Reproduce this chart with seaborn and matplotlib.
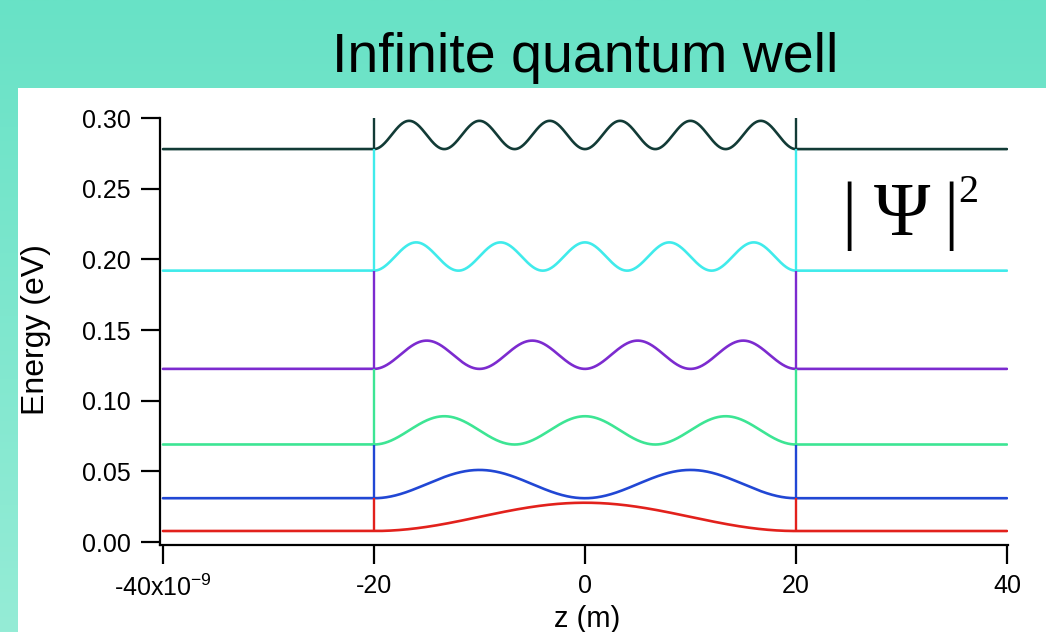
import numpy as np
import pandas as pd
import matplotlib
matplotlib.use("Agg")
import matplotlib.pyplot as plt
from matplotlib.patches import Rectangle
from matplotlib.colors import LinearSegmentedColormap
import seaborn as sns

# ---- data ----
states = [1, 2, 3, 4, 5, 6]                              # quantum number n
levels = [0.0078, 0.031, 0.069, 0.1225, 0.192, 0.278]    # energy E_n (eV)
amplitude = 0.020                                        # |psi|^2 peak height drawn (eV units)
well_half_width = 20.0                                   # nm (well from -20 to 20)
z_min, z_max = -40.0, 40.0                               # nm
wall_top = 0.301
colors = ["#E2211C", "#2147D4", "#3DE594", "#7C2BCF", "#40EBEB", "#123B36"]
xticks = [-40, -20, 0, 20, 40]
xtick_labels = ["-40x10$^{-9}$", "-20", "0", "20", "40"]
yticks = [0.00, 0.05, 0.10, 0.15, 0.20, 0.25, 0.30]
ytick_labels = ["0.00", "0.05", "0.10", "0.15", "0.20", "0.25", "0.30"]

# ---- build curves: E_n outside the well, E_n + A sin^2(n pi (z+L/2)/L) inside ----
z = np.linspace(z_min, z_max, 2401)
L = 2 * well_half_width
rows = []
for n, E in zip(states, levels):
    inside = np.abs(z) <= well_half_width
    psi2 = np.where(inside, np.sin(n * np.pi * (z + well_half_width) / L) ** 2, 0.0)
    rows.append(pd.DataFrame({"z": z, "E": E + amplitude * psi2, "state": n}))
df = pd.concat(rows, ignore_index=True)

sns.set_style("ticks")
plt.rcParams["font.family"] = ["Liberation Sans", "DejaVu Sans"]
plt.rcParams["mathtext.default"] = "regular"
plt.rcParams["text.color"] = "black"

W, H = 1046, 632
fig = plt.figure(figsize=(W / 100, H / 100), dpi=100)

# background: teal gradient with white panel
bg = fig.add_axes([0, 0, 1, 1])
cmap = LinearSegmentedColormap.from_list("bgc", ["#95ECD6", "#68E2C6"])
grad = np.linspace(0, 1, 256).reshape(-1, 1)
bg.imshow(grad, aspect="auto", cmap=cmap, extent=[0, 1, 0, 1], origin="lower", zorder=0)
bg.add_patch(Rectangle((18 / W, 0), 1, 1 - 88 / H, transform=bg.transAxes,
                       facecolor="white", edgecolor="none", zorder=1))
bg.set_xlim(0, 1); bg.set_ylim(0, 1)
bg.axis("off")

# main axes
left, right, top, bottom = 160 / W, 1008 / W, 1 - 118 / H, 1 - 545 / H
ax = fig.add_axes([left, bottom, right - left, top - bottom])
ax.patch.set_alpha(0)

palette = {n: c for n, c in zip(states, colors)}
sns.lineplot(data=df, x="z", y="E", hue="state", palette=palette, sort=False,
             estimator=None, linewidth=1.9, legend=False, ax=ax)

# well walls coloured by the level they start from
for i, (E, c) in enumerate(zip(levels, colors)):
    upper = levels[i + 1] if i + 1 < len(levels) else wall_top
    ax.vlines([-well_half_width, well_half_width], E, upper, colors=c, linewidth=1.7)

ax.set_xlim(-40.28, 40.1)
ax.set_ylim(-0.0021, 0.3)
ax.set_xticks(xticks)
ax.set_xticklabels(xtick_labels)
ax.set_yticks(yticks)
ax.set_yticklabels(ytick_labels)
ax.set_xlabel("")
ax.set_ylabel("")
for s in ["top", "right"]:
    ax.spines[s].set_visible(False)
for s in ["left", "bottom"]:
    ax.spines[s].set_linewidth(1.6)
    ax.spines[s].set_color("black")
ax.tick_params(axis="both", which="major", bottom=True, left=True, direction="out",
               length=14, width=1.6, colors="black", labelsize=18, pad=7)

# texts
fig.text(585 / W, 1 - 72 / H, "Infinite quantum well", ha="center", va="baseline",
         fontsize=40, color="black")
fig.text(36 / W, 1 - 330 / H, "Energy (eV)", rotation=90, ha="center", va="center",
         fontsize=23, color="black")
fig.text(587 / W, 1 - 605 / H, "z (m)", ha="center", va="top", fontsize=21, color="black")

serif = ["Liberation Serif", "DejaVu Serif"]
fig.text(849 / W, 1 - 235 / H, "|", ha="center", va="baseline", fontsize=55, family=serif, color="black")
fig.text(902 / W, 1 - 235 / H, "Ψ", ha="center", va="baseline", fontsize=55, family=serif, color="black")
fig.text(951 / W, 1 - 235 / H, "|", ha="center", va="baseline", fontsize=55, family=serif, color="black")
fig.text(958 / W, 1 - 202 / H, "2", ha="left", va="baseline", fontsize=29, family=serif, color="black")

fig.savefig("out.png", dpi=100)
